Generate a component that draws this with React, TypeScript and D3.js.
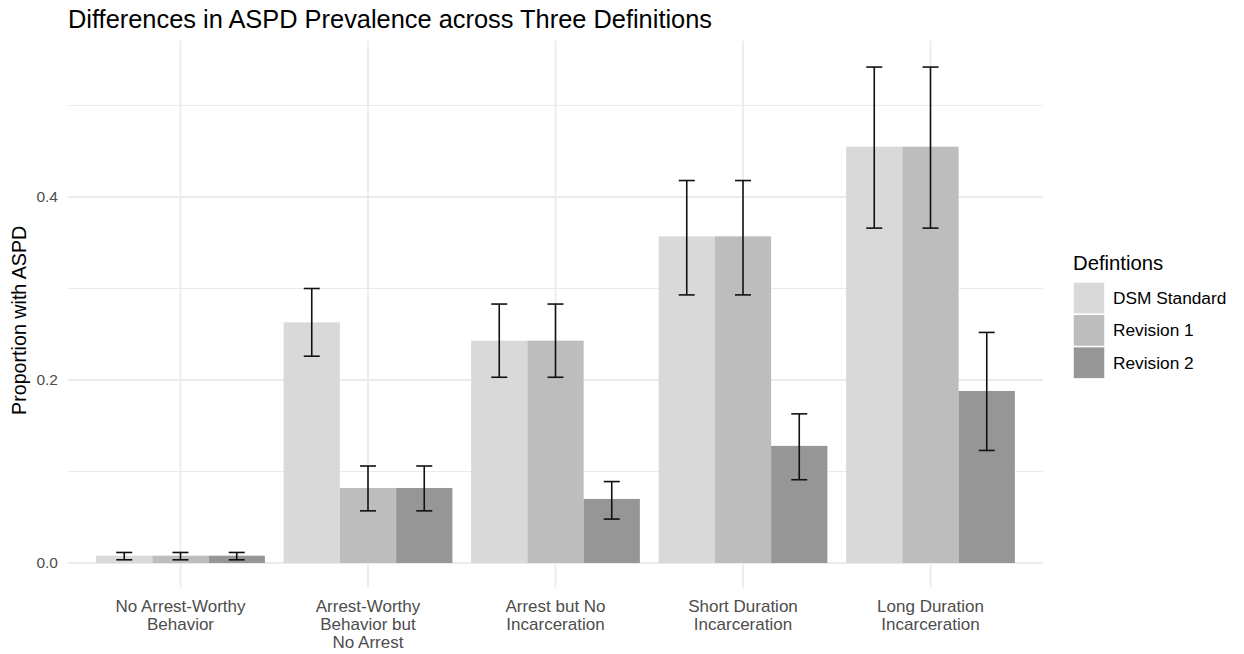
import React from "react";
import * as d3 from "d3";

const categories = [
  ["No Arrest-Worthy", "Behavior"],
  ["Arrest-Worthy", "Behavior but", "No Arrest"],
  ["Arrest but No", "Incarceration"],
  ["Short Duration", "Incarceration"],
  ["Long Duration", "Incarceration"],
];
const definitions = ["DSM Standard", "Revision 1", "Revision 2"];
const colors = ["#d9d9d9", "#bdbdbd", "#969696"];

const dsmValues = [0.008, 0.263, 0.243, 0.357, 0.455];
const dsmLow = [0.0035, 0.226, 0.203, 0.293, 0.366];
const dsmHigh = [0.0115, 0.3, 0.283, 0.418, 0.542];

const rev1Values = [0.008, 0.082, 0.243, 0.357, 0.455];
const rev1Low = [0.0035, 0.057, 0.203, 0.293, 0.366];
const rev1High = [0.0115, 0.106, 0.283, 0.418, 0.542];

const rev2Values = [0.008, 0.082, 0.07, 0.128, 0.188];
const rev2Low = [0.0035, 0.057, 0.048, 0.091, 0.123];
const rev2High = [0.0115, 0.106, 0.089, 0.163, 0.252];

const yTicks = [0, 0.2, 0.4];
const yMinor = [0.1, 0.3, 0.5];

const series = [
  { values: dsmValues, low: dsmLow, high: dsmHigh },
  { values: rev1Values, low: rev1Low, high: rev1High },
  { values: rev2Values, low: rev2Low, high: rev2High },
];

export default function App() {
  const W = 1244, H = 654;
  const left = 68, right = 1043, top = 40.7, bottom = 588;
  const n = categories.length;
  const unit = (right - left) / (n - 1 + 1.2);
  const cx = (i: number) => left + (0.6 + i) * unit;
  const groupW = 0.9 * unit;
  const barW = groupW / 3;
  const y = d3.scaleLinear().domain([0, 0.5]).range([563, 105.5]);
  const capW = 16;
  const font = "'Liberation Sans', Arial, sans-serif";

  return (
    <svg width={W} height={H} style={{ position: "absolute", left: 0, top: 0, background: "#fff" }} fontFamily={font}>
      <rect width={W} height={H} fill="#fff" />
      {yMinor.map((t) => (
        <line key={"m" + t} x1={left} x2={right} y1={y(t)} y2={y(t)} stroke="#ebebeb" strokeWidth={1} />
      ))}
      {yTicks.map((t) => (
        <line key={"M" + t} x1={left} x2={right} y1={y(t)} y2={y(t)} stroke="#ebebeb" strokeWidth={1.8} />
      ))}
      {categories.map((_, i) => (
        <line key={"v" + i} x1={cx(i)} x2={cx(i)} y1={top} y2={bottom} stroke="#ebebeb" strokeWidth={1.8} />
      ))}
      {series.map((s, si) =>
        s.values.map((v, i) => {
          const x0 = cx(i) - groupW / 2 + si * barW;
          return (
            <rect key={`b${si}-${i}`} x={x0} y={y(v)} width={barW} height={y(0) - y(v)} fill={colors[si]} />
          );
        })
      )}
      {series.map((s, si) =>
        s.values.map((_, i) => {
          const xm = cx(i) - groupW / 2 + (si + 0.5) * barW;
          const yl = y(s.low[i]), yh = y(s.high[i]);
          return (
            <g key={`e${si}-${i}`} stroke="#111" strokeWidth={1.6}>
              <line x1={xm} x2={xm} y1={yh} y2={yl} />
              <line x1={xm - capW / 2} x2={xm + capW / 2} y1={yh} y2={yh} />
              <line x1={xm - capW / 2} x2={xm + capW / 2} y1={yl} y2={yl} />
            </g>
          );
        })
      )}
      {yTicks.map((t) => (
        <text key={"t" + t} x={58} y={y(t)} dy="0.35em" textAnchor="end" fontSize={15.5} fill="#4d4d4d">
          {d3.format(".1f")(t)}
        </text>
      ))}
      {categories.map((lines, i) => (
        <text key={"x" + i} x={cx(i)} y={612} textAnchor="middle" fontSize={17} fill="#4d4d4d">
          {lines.map((l, k) => (
            <tspan key={k} x={cx(i)} dy={k === 0 ? 0 : 18}>{l}</tspan>
          ))}
        </text>
      ))}
      <text transform={`translate(26,${(top + bottom) / 2 + 6}) rotate(-90)`} textAnchor="middle" fontSize={19.7} fill="#000">
        Proportion with ASPD
      </text>
      <text x={68} y={28} fontSize={25.4} fill="#000">
        Differences in ASPD Prevalence across Three Definitions
      </text>
      <text x={1073} y={270} fontSize={20.3} fill="#000">Defintions</text>
      {definitions.map((d, k) => {
        const ky = 282 + k * 32.3;
        return (
          <g key={"l" + k}>
            <rect x={1073} y={ky} width={32} height={32.3} fill={colors[k]} stroke="#fff" strokeWidth={1.5} />
            <text x={1113} y={ky + 16} dy="0.35em" fontSize={17.3} fill="#000">{d}</text>
          </g>
        );
      })}
    </svg>
  );
}
